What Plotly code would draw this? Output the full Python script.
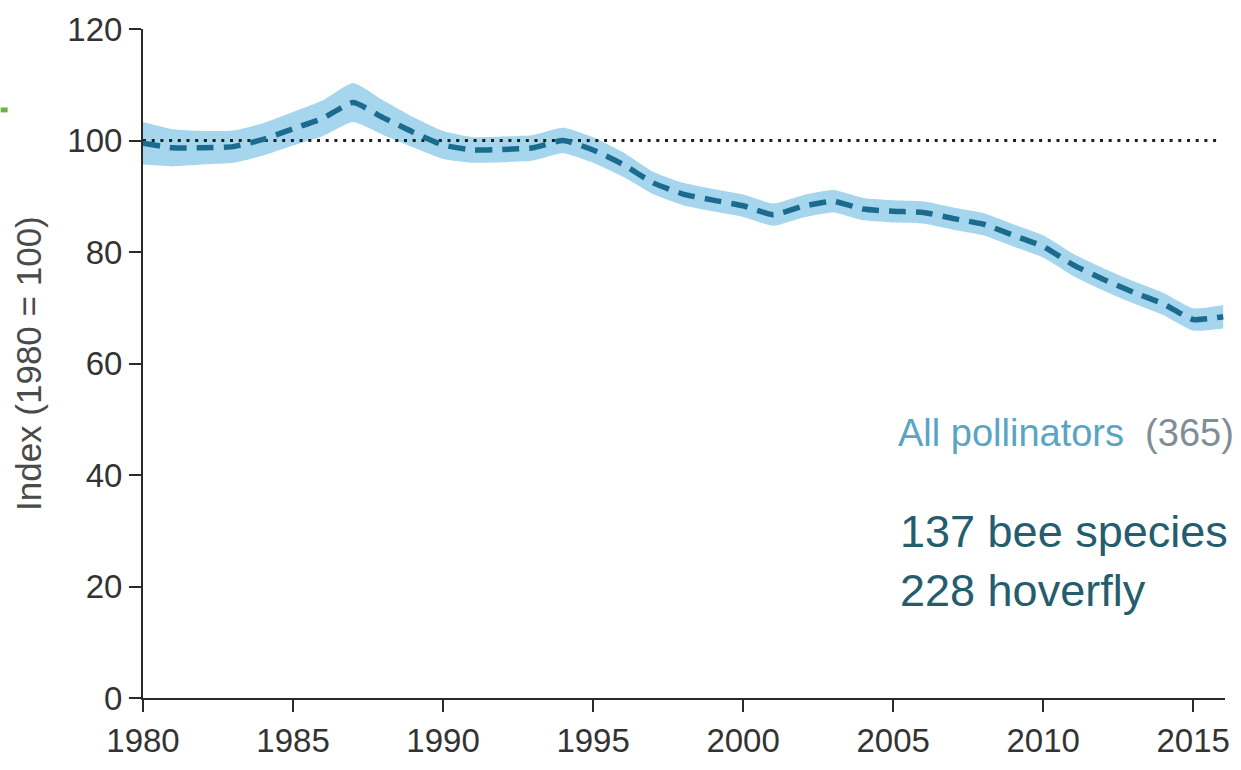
import plotly.graph_objects as go

years = list(range(1980, 2017))
index_vals = [99.5, 98.7, 98.7, 98.9, 100.2, 102.1, 104.0, 106.8, 104.1, 101.5,
              99.2, 98.3, 98.4, 98.7, 100.0, 98.3, 95.7, 92.4, 90.4, 89.3,
              88.3, 86.7, 88.2, 89.1, 87.7, 87.3, 87.1, 86.0, 85.0, 83.0,
              81.0, 77.7, 75.1, 72.8, 70.7, 67.9, 68.4]
upper_vals = [103.3, 102.0, 101.7, 101.8, 103.1, 105.1, 107.2, 110.3, 107.2, 104.2,
              101.7, 100.6, 100.7, 101.0, 102.3, 100.6, 97.9, 94.4, 92.4, 91.3,
              90.3, 88.7, 90.2, 91.1, 89.7, 89.3, 89.1, 88.0, 87.0, 85.0,
              83.0, 79.7, 77.1, 74.8, 72.7, 69.9, 70.5]
lower_vals = [95.7, 95.4, 95.7, 96.0, 97.3, 99.1, 100.8, 103.3, 101.0, 98.8,
              96.7, 96.0, 96.1, 96.4, 97.7, 96.0, 93.5, 90.4, 88.4, 87.3,
              86.3, 84.7, 86.2, 87.1, 85.7, 85.3, 85.1, 84.0, 83.0, 81.0,
              79.0, 75.7, 73.1, 70.8, 68.7, 65.9, 66.3]
baseline_x = [1980, 2015.8]
baseline_y = [100, 100]
x_ticks = [1980, 1985, 1990, 1995, 2000, 2005, 2010, 2015]
y_ticks = [0, 20, 40, 60, 80, 100, 120]

FONT = "Liberation Sans, Arial, sans-serif"
SMOOTH = 0.5

fig = go.Figure()
fig.add_trace(go.Scatter(x=years, y=lower_vals, mode="lines",
                         line=dict(width=0, shape="spline", smoothing=SMOOTH),
                         showlegend=False, hoverinfo="skip"))
fig.add_trace(go.Scatter(x=years, y=upper_vals, mode="lines",
                         line=dict(width=0, shape="spline", smoothing=SMOOTH),
                         fill="tonexty", fillcolor="rgb(165,214,238)",
                         showlegend=False, hoverinfo="skip"))
fig.add_trace(go.Scatter(x=baseline_x, y=baseline_y, mode="lines",
                         line=dict(color="#1e1e1e", width=3, dash="3px,5.7px"),
                         showlegend=False, hoverinfo="skip"))
fig.add_trace(go.Scatter(x=years, y=index_vals, mode="lines",
                         line=dict(color="#1b6b8f", width=5.5, dash="17px,10px",
                                   shape="spline", smoothing=SMOOTH),
                         showlegend=False))

fig.update_layout(
    width=1241, height=770,
    margin=dict(l=143, r=11, t=25, b=63),
    paper_bgcolor="white", plot_bgcolor="white",
    font=dict(family=FONT, color="#333333"),
    xaxis=dict(range=[1980, 2016.06], tickvals=x_ticks, showline=True,
               linecolor="#2a2a2a", linewidth=2, ticks="outside", ticklen=12,
               tickwidth=2, tickcolor="#2a2a2a", showgrid=False, zeroline=False,
               tickfont=dict(size=33, family=FONT, color="#333333")),
    yaxis=dict(range=[0, 120], tickvals=y_ticks, showline=True,
               linecolor="#2a2a2a", linewidth=2, ticks="outside", ticklen=12,
               tickwidth=2, tickcolor="#2a2a2a", showgrid=False, zeroline=False,
               tickfont=dict(size=33, family=FONT, color="#333333")),
    annotations=[
        dict(xref="paper", yref="paper", x=(28 - 143) / 1087, y=0.5,
             text="Index (1980 = 100)", textangle=-90, showarrow=False,
             font=dict(size=35, family=FONT, color="#4a4a4a"),
             xanchor="center", yanchor="middle"),
        dict(xref="x", yref="y", x=2005.1, y=47.5, xanchor="left", yanchor="middle",
             text="<span style='color:#5aa4c4'>All pollinators</span>"
                  "<span style='color:#7f8e96'>  (365)</span>",
             showarrow=False, font=dict(size=38, family=FONT)),
        dict(xref="x", yref="y", x=2005.15, y=24.6, xanchor="left", yanchor="middle",
             align="left", text="137 bee species<br>228 hoverfly", showarrow=False,
             font=dict(size=45, family=FONT, color="#235d6e")),
    ],
    shapes=[
        dict(type="rect", xref="paper", yref="paper",
             x0=-143 / 1087, x1=(7 - 143) / 1087,
             y0=(707 - 110) / 682, y1=(707 - 105) / 682,
             fillcolor="#6db33f", line=dict(width=0)),
    ],
)

fig.write_html("out.html")
